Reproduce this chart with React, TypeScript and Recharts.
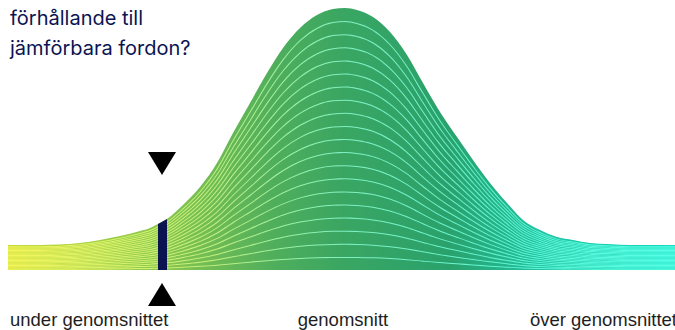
import React from "react";
import { ComposedChart, Area, XAxis, YAxis, ReferenceDot } from "recharts";

// x positions (page-pixel units) and total curve height
const positions = [8, 40, 60, 80, 100, 120, 140, 150, 158, 167, 183, 200, 217, 233, 250, 267, 283, 300, 317, 333, 345, 357, 373, 390, 407, 423, 440, 457, 473, 490, 507, 523, 540, 557, 573, 590, 607, 630, 675];
const totals = [25, 25, 25.5, 27, 30, 34, 39, 42, 46, 51, 65, 83, 107, 137, 167, 197, 222, 242, 255, 261, 262, 260, 253, 238, 215, 187, 158, 133, 110, 87, 67, 50, 40, 33, 30, 27, 26, 25, 25];
const LAYERS = 20;

// highlighted position of "your vehicle"
const markerPositions = [158, 167];
const markerValues = [46, 51];
const markerX = 162;
const markerTopY = 106.5;
const markerBottomY = -24.5;

const tickValues = [8, 343, 675];
const tickLabels = ["under genomsnittet", "genomsnitt", "över genomsnittet"];
const titleLines = ["Vad står sig min bil i", "förhållande till", "jämförbara fordon?"];

const layerKeys = Array.from({ length: LAYERS }, (_, i) => `l${i}`);

const data = positions.map((x, idx) => {
  const row: Record<string, number | null> = { x };
  layerKeys.forEach((k) => {
    row[k] = totals[idx] / LAYERS;
  });
  const mi = markerPositions.indexOf(x);
  row.marker = mi >= 0 ? markerValues[mi] : null;
  return row;
});

const Tick = (props: any) => {
  const { x, y, index } = props;
  const anchor = index === 0 ? "start" : index === tickLabels.length - 1 ? "end" : "middle";
  const dx = index === 0 ? 2 : index === tickLabels.length - 1 ? 2 : 0;
  return (
    <text
      x={x + dx}
      y={y}
      dy={56}
      textAnchor={anchor}
      fontFamily="'Liberation Sans', Arial, sans-serif"
      fontSize={18.5}
      fill="#1e1e1e"
    >
      {tickLabels[index]}
    </text>
  );
};

const DownTriangle = (props: any) => {
  const { cx, cy } = props;
  return <path d={`M${cx - 14},${cy - 11.5} L${cx + 14},${cy - 11.5} L${cx},${cy + 11.5} Z`} fill="#000" />;
};
const UpTriangle = (props: any) => {
  const { cx, cy } = props;
  return <path d={`M${cx - 14},${cy + 11.5} L${cx + 14},${cy + 11.5} L${cx},${cy - 11.5} Z`} fill="#000" />;
};

export default function App() {
  return (
    <div style={{ position: "absolute", left: 0, top: 0, width: 675, height: 330, overflow: "hidden" }}>
      <ComposedChart width={675} height={330} data={data} margin={{ top: 8, right: 0, bottom: 0, left: 8 }}>
        <defs>
          <linearGradient id="fillGrad" x1="0" y1="0" x2="1" y2="0">
            <stop offset="0" stopColor="#c6db3a" />
            <stop offset="0.22" stopColor="#8cc84e" />
            <stop offset="0.4" stopColor="#4fae5c" />
            <stop offset="0.5" stopColor="#3aa662" />
            <stop offset="0.66" stopColor="#2aa16c" />
            <stop offset="0.8" stopColor="#20c2a2" />
            <stop offset="1" stopColor="#18dcc0" />
          </linearGradient>
          <linearGradient id="strokeGrad" x1="0" y1="0" x2="1" y2="0">
            <stop offset="0" stopColor="#f4f55a" />
            <stop offset="0.3" stopColor="#c4f07c" />
            <stop offset="0.5" stopColor="#80efc0" />
            <stop offset="0.75" stopColor="#5ef4d2" />
            <stop offset="1" stopColor="#55ffe6" />
          </linearGradient>
        </defs>
        <XAxis
          dataKey="x"
          type="number"
          domain={[8, 675]}
          ticks={tickValues}
          interval={0}
          height={60}
          axisLine={false}
          tickLine={false}
          tickSize={0}
          tickMargin={0}
          tick={<Tick />}
        />
        <YAxis hide domain={[0, 262]} allowDataOverflow />
        {layerKeys.map((k, i) => (
          <Area
            key={k}
            dataKey={k}
            stackId="a"
            type="monotone"
            fill="url(#fillGrad)"
            fillOpacity={1}
            stroke={i === LAYERS - 1 ? "none" : "url(#strokeGrad)"}
            strokeWidth={2}
            isAnimationActive={false}
            dot={false}
            activeDot={false}
          />
        ))}
        <Area
          dataKey="marker"
          type="linear"
          fill="#0b1450"
          fillOpacity={1}
          stroke="none"
          isAnimationActive={false}
          dot={false}
          activeDot={false}
        />
        <ReferenceDot x={markerX} y={markerTopY} ifOverflow="visible" shape={<DownTriangle />} />
        <ReferenceDot x={markerX} y={markerBottomY} ifOverflow="visible" shape={<UpTriangle />} />
      </ComposedChart>
      <div
        style={{
          position: "absolute",
          left: 10,
          top: -27,
          fontFamily: "Inter, 'Noto Sans', sans-serif",
          fontSize: 20,
          lineHeight: "30px",
          color: "#0b1452",
          whiteSpace: "nowrap",
        }}
      >
        {titleLines.map((t) => (
          <div key={t}>{t}</div>
        ))}
      </div>
    </div>
  );
}
